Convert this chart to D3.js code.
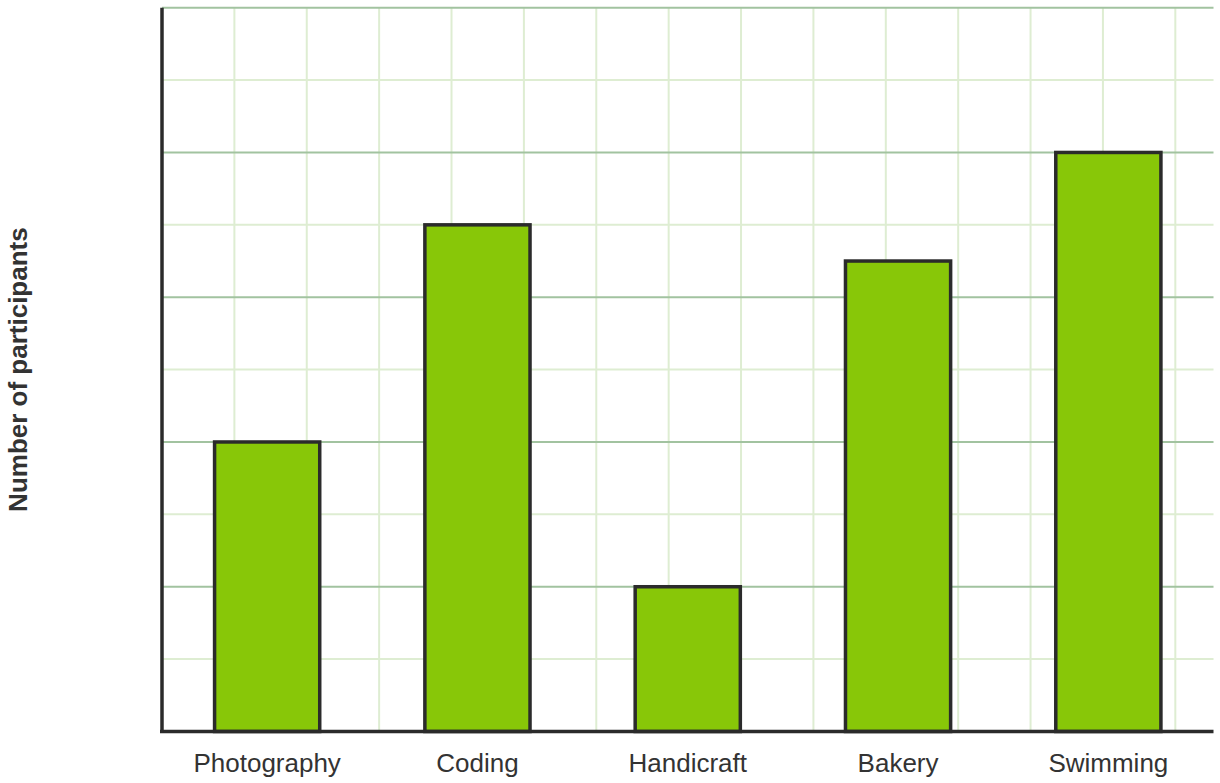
<!DOCTYPE html>
<html>
<head>
<meta charset="utf-8">
<script src="https://cdn.jsdelivr.net/npm/d3@7"></script>
<style>
  html, body { margin: 0; padding: 0; background: #ffffff; }
  svg { display: block; }
  text { font-family: Arial, "Liberation Sans", Helvetica, sans-serif; }
</style>
</head>
<body>
<svg id="chart" width="1220" height="783"></svg>
<script>
const categories = ["Photography", "Coding", "Handicraft", "Bakery", "Swimming"];
const values = [4, 7, 2, 6.5, 8];
const yTicks = [0, 1, 2, 3, 4, 5, 6, 7, 8, 9, 10];
const yTitle = "Number of participants";

const W = 1220, H = 783;
const mLeft = 162, mRight = 1213.5, mTop = 7.7, mBottom = 731.5;

const svg = d3.select("#chart");

const y = d3.scaleLinear().domain([0, 10]).range([mBottom, mTop]);
const x = d3.scaleBand().domain(categories).range([mLeft, mRight])
  .paddingInner(0.5).paddingOuter(0.25);

// vertical grid uses same unit size as y
const unit = (mBottom - mTop) / 10;
const gx = d3.scaleLinear().domain([0, 1]).range([mLeft, mLeft + unit]);
const vCount = Math.floor((mRight - mLeft) / unit);
const vTicks = d3.range(1, vCount + 1);

const grid = svg.append("g");
grid.selectAll("line.v").data(vTicks).join("line")
  .attr("class", "v")
  .attr("x1", d => gx(d)).attr("x2", d => gx(d))
  .attr("y1", mTop).attr("y2", mBottom)
  .attr("stroke", "#deedd2").attr("stroke-width", 2);

grid.selectAll("line.h").data(yTicks.filter(d => d > 0)).join("line")
  .attr("class", "h")
  .attr("x1", mLeft).attr("x2", mRight)
  .attr("y1", d => y(d)).attr("y2", d => y(d))
  .attr("stroke", d => d % 2 === 0 ? "#a2c3a0" : "#deedd2")
  .attr("stroke-width", 2);

// bars
svg.append("g").selectAll("rect").data(categories).join("rect")
  .attr("x", d => x(d))
  .attr("y", (d, i) => y(values[i]))
  .attr("width", x.bandwidth())
  .attr("height", (d, i) => y(0) - y(values[i]))
  .attr("fill", "#88c708")
  .attr("stroke", "#2b2b2b")
  .attr("stroke-width", 3.5);

// axes
const xAxis = d3.axisBottom(x).tickSize(0).tickPadding(0);
const gX = svg.append("g").attr("transform", `translate(0,${mBottom})`).call(xAxis);
gX.select(".domain").attr("d", `M${mLeft - 2},0H${mRight}`).attr("stroke", "#2b2b2b").attr("stroke-width", 3.5);
gX.selectAll(".tick text")
  .attr("dy", null).attr("y", 40.5)
  .attr("fill", "#333333")
  .style("font-size", "26px");

const yAxis = d3.axisLeft(y).tickValues([]).tickSize(0);
const gY = svg.append("g").attr("transform", `translate(${mLeft},0)`).call(yAxis);
gY.select(".domain").attr("d", `M0,${mTop}V${mBottom + 1.5}`).attr("stroke", "#2b2b2b").attr("stroke-width", 3.5);

svg.append("text")
  .attr("transform", `translate(27,${(mTop + mBottom) / 2}) rotate(-90)`)
  .attr("text-anchor", "middle")
  .attr("fill", "#333333")
  .style("font-size", "26px")
  .style("font-weight", "bold")
  .text(yTitle);
</script>
</body>
</html>
